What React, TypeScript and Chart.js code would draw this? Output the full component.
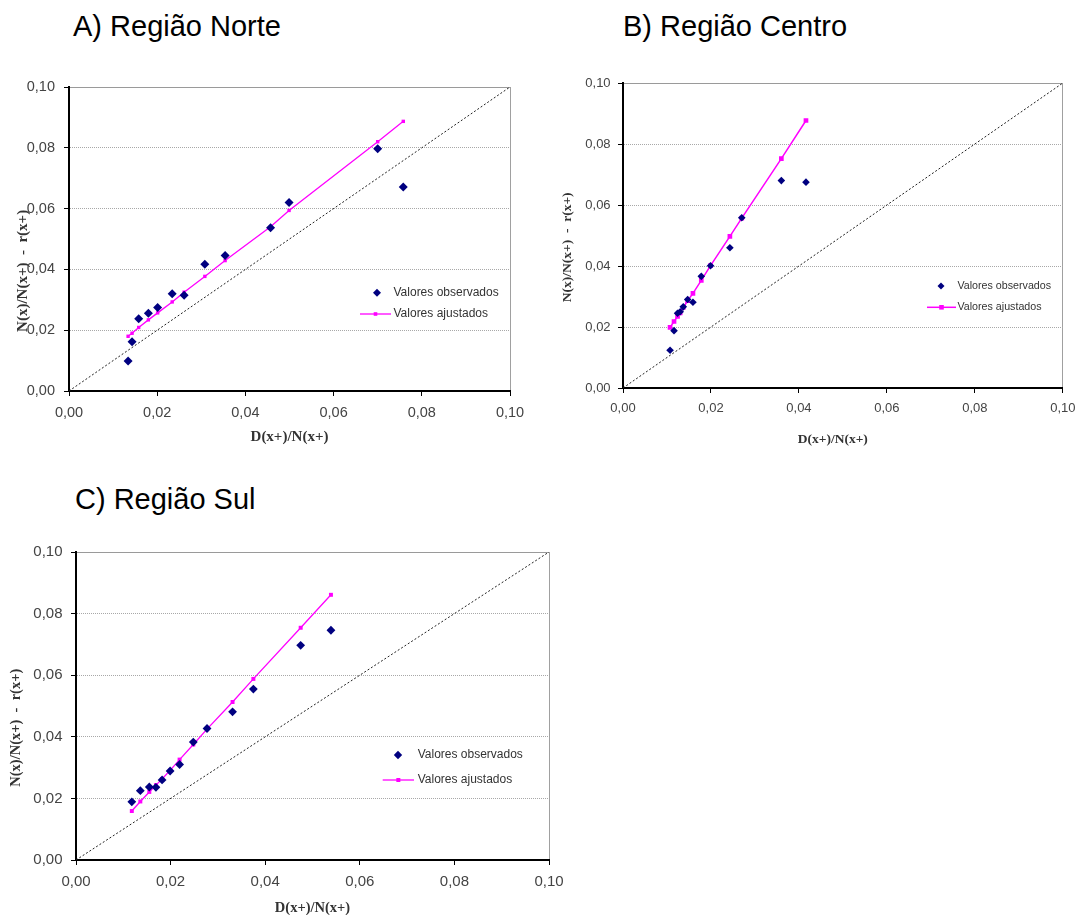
import React, { useEffect, useRef } from 'react';
import { Chart, registerables } from 'chart.js';

Chart.register(...registerables);

// ---------- data ----------
const panelTitles = ['A) Região Norte', 'B) Região Centro', 'C) Região Sul'];
const seriesLabels = ['Valores observados', 'Valores ajustados'];
const xAxisTitle = 'D(x+)/N(x+)';
const yAxisTitle = 'N(x)/N(x+)  -  r(x+)';
const tickValues = [0, 0.02, 0.04, 0.06, 0.08, 0.1];
const tickLabels = ['0,00', '0,02', '0,04', '0,06', '0,08', '0,10'];
const diagonalValues = [0, 0.1];

const norteX = [0.0134, 0.0143, 0.0158, 0.018, 0.0201, 0.0234, 0.0261, 0.0308, 0.0354, 0.0457, 0.0499, 0.07, 0.0758];
const norteObserved = [0.0099, 0.0162, 0.0238, 0.0256, 0.0275, 0.032, 0.0315, 0.0417, 0.0446, 0.0537, 0.062, 0.0797, 0.0671];
const norteFitted = [0.018, 0.019, 0.0209, 0.0234, 0.0257, 0.0293, 0.0325, 0.0377, 0.0429, 0.054, 0.0594, 0.082, 0.0887];

const centroX = [0.0107, 0.0116, 0.0124, 0.013, 0.0137, 0.0147, 0.0159, 0.0178, 0.0199, 0.0243, 0.027, 0.036, 0.0416];
const centroObserved = [0.0124, 0.0188, 0.0245, 0.025, 0.0266, 0.029, 0.0281, 0.0366, 0.0401, 0.046, 0.0558, 0.068, 0.0675];
const centroFitted = [0.0199, 0.0218, 0.0235, 0.0246, 0.0264, 0.0286, 0.031, 0.0353, 0.0401, 0.0497, 0.0557, 0.0752, 0.0877];

const sulX = [0.0118, 0.0136, 0.0155, 0.0169, 0.0182, 0.0199, 0.0219, 0.0248, 0.0277, 0.0331, 0.0375, 0.0475, 0.0539];
const sulObserved = [0.0189, 0.0225, 0.0237, 0.0236, 0.026, 0.0289, 0.031, 0.0383, 0.0427, 0.0481, 0.0555, 0.0697, 0.0746];
const sulFitted = [0.0159, 0.019, 0.0221, 0.0243, 0.0263, 0.0291, 0.0326, 0.0375, 0.0425, 0.0513, 0.0588, 0.0754, 0.0861];

// ---------- styles ----------
const NAVY = '#000080';
const MAGENTA = '#FF00FF';
const SANS = '"Liberation Sans", Arial, sans-serif';
const SERIF = '"Liberation Serif", "Times New Roman", serif';

const panels: any[] = [
  {
    title: panelTitles[0], titleLeft: 73, titleTop: 12,
    canvas: { left: 0, top: 50, width: 545, height: 400 },
    pad: { top: 37, right: 35 }, yW: 69, xH: 59,
    tickFont: 14.5, tickPadX: 8.6, tickPadY: 9, axisFont: 15,
    yTitlePad: 13.8, xTitlePad: 4.3, yTitleSpaces: 17, xTitleSpaces: 0,
    xs: norteX, obs: norteObserved, fit: norteFitted,
    diamondR: 4.5, squareR: 2.4, lineW: 1.3,
    legend: { markerX: 308, lineX1: 291, lineX2: 322, textX: 324.5, row1: 205.7, row2: 227, fontSize: 12, markerR: 4, squareS: 3.6 },
  },
  {
    title: panelTitles[1], titleLeft: 623, titleTop: 12,
    canvas: { left: 545, top: 50, width: 538, height: 405 },
    pad: { top: 33, right: 16 }, yW: 78, xH: 67,
    tickFont: 13, tickPadX: 7.5, tickPadY: 7.4, axisFont: 13.5,
    yTitlePad: 14.5, xTitlePad: 6.9, yTitleSpaces: 7, xTitleSpaces: 6,
    xs: centroX, obs: centroObserved, fit: centroFitted,
    diamondR: 3.8, squareR: 3.3, lineW: 1.5,
    legend: { markerX: 318, lineX1: 304, lineX2: 333, textX: 334.4, row1: 203, row2: 224.3, fontSize: 10.7, markerR: 3.5, squareS: 4.6 },
  },
  {
    title: panelTitles[2], titleLeft: 75, titleTop: 484.5,
    canvas: { left: 0, top: 520, width: 580, height: 400 },
    pad: { top: 32, right: 31 }, yW: 76, xH: 60,
    tickFont: 15, tickPadX: 7.7, tickPadY: 8.5, axisFont: 14.5,
    yTitlePad: 7.3, xTitlePad: 3, yTitleSpaces: 12, xTitleSpaces: 0,
    xs: sulX, obs: sulObserved, fit: sulFitted,
    diamondR: 4.4, squareR: 2.8, lineW: 1.3,
    legend: { markerX: 322, lineX1: 306.7, lineX2: 338, textX: 341.7, row1: 203, row2: 228, fontSize: 12, markerR: 4.2, squareS: 4 },
  },
];

const insideLegend = {
  id: 'insideLegend',
  afterDraw(chart: any, _args: any, opts: any) {
    const { ctx, chartArea } = chart;
    const ds = chart.data.datasets;
    const L = chartArea.left;
    const T = chartArea.top;
    ctx.save();
    // row 1: diamond
    const y1 = T + opts.row1;
    const mx = L + opts.markerX;
    const r = opts.markerR;
    ctx.fillStyle = ds[0].backgroundColor;
    ctx.beginPath();
    ctx.moveTo(mx - r, y1);
    ctx.lineTo(mx, y1 - r);
    ctx.lineTo(mx + r, y1);
    ctx.lineTo(mx, y1 + r);
    ctx.closePath();
    ctx.fill();
    // row 2: line + square
    const y2 = T + opts.row2;
    ctx.strokeStyle = ds[1].borderColor;
    ctx.lineWidth = ds[1].borderWidth;
    ctx.beginPath();
    ctx.moveTo(L + opts.lineX1, y2);
    ctx.lineTo(L + opts.lineX2, y2);
    ctx.stroke();
    const sq = opts.squareS;
    const sx = L + (opts.lineX1 + opts.lineX2) / 2;
    ctx.fillStyle = ds[1].backgroundColor;
    ctx.fillRect(sx - sq / 2, y2 - sq / 2, sq, sq);
    // texts
    ctx.fillStyle = '#333';
    ctx.font = `${opts.fontSize}px ${SANS}`;
    ctx.textBaseline = 'middle';
    ctx.textAlign = 'left';
    ctx.fillText(ds[0].label, L + opts.textX, y1);
    ctx.fillText(ds[1].label, L + opts.textX, y2);
    ctx.restore();
  },
};

function buildConfig(p: any): any {
  const tickFont = { family: SANS, size: p.tickFont };
  const titleFont = { family: SERIF, size: p.axisFont, weight: 'bold' };
  const last = tickValues.length - 1;
  return {
    type: 'scatter',
    data: {
      datasets: [
        {
          label: seriesLabels[0],
          data: p.xs.map((x: number, i: number) => ({ x, y: p.obs[i] })),
          showLine: false,
          pointStyle: 'rectRot',
          pointRadius: p.diamondR,
          pointHoverRadius: p.diamondR,
          backgroundColor: NAVY,
          borderColor: NAVY,
          pointBorderWidth: 0,
        },
        {
          label: seriesLabels[1],
          data: p.xs.map((x: number, i: number) => ({ x, y: p.fit[i] })),
          showLine: true,
          borderColor: MAGENTA,
          borderWidth: p.lineW,
          backgroundColor: MAGENTA,
          pointStyle: 'rect',
          pointRadius: p.squareR,
          pointHoverRadius: p.squareR,
          pointBorderWidth: 0,
          tension: 0,
        },
        {
          label: 'diagonal',
          data: diagonalValues.map((v) => ({ x: v, y: v })),
          showLine: true,
          borderColor: '#222',
          borderWidth: 1,
          borderDash: [2, 2],
          pointRadius: 0,
          pointHoverRadius: 0,
        },
      ],
    },
    options: {
      responsive: false,
      animation: false,
      devicePixelRatio: 1,
      events: [],
      layout: { padding: { top: p.pad.top, right: p.pad.right, left: 0, bottom: 0 } },
      plugins: {
        legend: { display: false },
        tooltip: { enabled: false },
        insideLegend: p.legend,
      },
      scales: {
        x: {
          type: 'linear',
          position: 'bottom',
          min: 0,
          max: 0.1,
          afterBuildTicks: (s: any) => {
            s.ticks = tickValues.map((v) => ({ value: v }));
          },
          afterFit: (s: any) => {
            s.height = p.xH;
          },
          ticks: {
            callback: (_v: any, i: number) => tickLabels[i],
            font: tickFont,
            color: '#444',
            padding: p.tickPadX,
            maxRotation: 0,
            autoSkip: false,
          },
          grid: {
            drawOnChartArea: true,
            color: (c: any) => (c.index === last ? '#a0a0a0' : 'rgba(0,0,0,0)'),
            lineWidth: 1,
            tickColor: '#000',
            tickLength: 5,
            tickWidth: 1,
          },
          border: { color: '#000', width: 2 },
          title: {
            display: true,
            text: xAxisTitle + ' '.repeat(p.xTitleSpaces),
            font: titleFont,
            color: '#333',
            padding: { top: 0, bottom: p.xTitlePad },
          },
        },
        y: {
          type: 'linear',
          position: 'left',
          min: 0,
          max: 0.1,
          afterBuildTicks: (s: any) => {
            s.ticks = tickValues.map((v) => ({ value: v }));
          },
          afterFit: (s: any) => {
            s.width = p.yW;
          },
          ticks: {
            callback: (_v: any, i: number) => tickLabels[i],
            font: tickFont,
            color: '#444',
            padding: p.tickPadY,
            autoSkip: false,
          },
          grid: {
            drawOnChartArea: true,
            color: (c: any) => (c.index === 0 ? 'rgba(0,0,0,0)' : c.index === last ? '#9a9a9a' : '#a8a8a8'),
            lineWidth: 1,
            tickColor: '#000',
            tickLength: 5,
            tickWidth: 1,
          },
          border: {
            color: '#000',
            width: 2,
            dash: (c: any) => (c.index === last ? [] : [1, 1]),
          },
          title: {
            display: true,
            text: yAxisTitle + ' '.repeat(p.yTitleSpaces),
            font: titleFont,
            color: '#333',
            padding: { top: p.yTitlePad, bottom: 0 },
          },
        },
      },
    },
    plugins: [insideLegend],
  };
}

function ChartPanel({ p }: { p: any }) {
  const ref = useRef<HTMLCanvasElement>(null);
  useEffect(() => {
    if (!ref.current) return;
    const chart = new Chart(ref.current, buildConfig(p));
    return () => chart.destroy();
  }, [p]);
  return (
    <canvas
      ref={ref}
      width={p.canvas.width}
      height={p.canvas.height}
      style={{
        position: 'absolute',
        left: p.canvas.left,
        top: p.canvas.top,
        width: p.canvas.width,
        height: p.canvas.height,
      }}
    />
  );
}

export default function App() {
  return (
    <div
      style={{
        position: 'absolute',
        left: 0,
        top: 0,
        width: 1083,
        height: 915,
        overflow: 'hidden',
        background: '#fff',
      }}
    >
      {panels.map((p, i) => (
        <div
          key={'t' + i}
          style={{
            position: 'absolute',
            left: p.titleLeft,
            top: p.titleTop,
            fontFamily: SANS,
            fontSize: 29,
            lineHeight: '29px',
            color: '#000',
            whiteSpace: 'nowrap',
          }}
        >
          {p.title}
        </div>
      ))}
      {panels.map((p, i) => (
        <ChartPanel key={'c' + i} p={p} />
      ))}
    </div>
  );
}
